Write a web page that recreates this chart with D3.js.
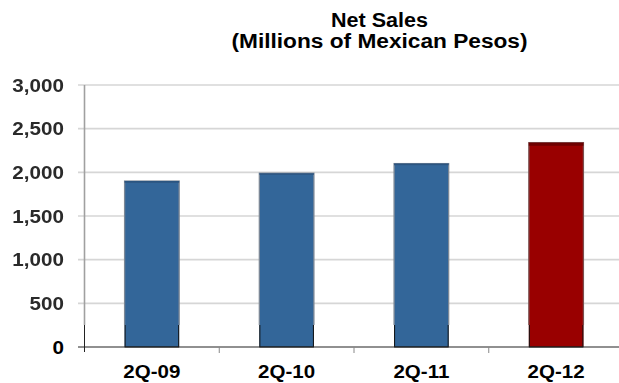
<!DOCTYPE html>
<html>
<head>
<meta charset="utf-8">
<script src="https://cdn.jsdelivr.net/npm/d3@7"></script>
<style>
  html, body { margin: 0; padding: 0; background: #fff; }
  svg { display: block; }
  text { font-family: Arial, "Liberation Sans", Helvetica, sans-serif; font-weight: bold; }
</style>
</head>
<body>
<svg id="chart" width="619" height="383"></svg>
<script>
// Net sales by quarter, millions of Mexican pesos
const categories = ["2Q-09", "2Q-10", "2Q-11", "2Q-12"];
const netSales = [1900, 1990, 2100, 2340];
const yTicks = [0, 500, 1000, 1500, 2000, 2500, 3000];
const titleLines = ["Net Sales", "(Millions of Mexican Pesos)"];

(function draw() {
  const svg = d3.select("#chart");
  const W = 619, H = 383;
  const plotLeft = 84.5, plotRight = 623.5, plotTop = 85, plotBottom = 347;
  const stripTop = 325; // crisp lower band of the plot

  const x = d3.scaleBand()
    .domain(categories)
    .range([plotLeft, plotRight])
    .paddingInner(0.595)
    .paddingOuter(0.2975);

  const y = d3.scaleLinear().domain([0, 3000]).range([plotBottom, plotTop]);

  const defs = svg.append("defs");
  defs.append("filter").attr("id", "soft")
    .attr("filterUnits", "userSpaceOnUse")
    .attr("x", -2000).attr("y", -2000).attr("width", 5000).attr("height", 5000)
    .append("feGaussianBlur").attr("stdDeviation", 0.55);
  defs.append("clipPath").attr("id", "upper")
    .append("rect").attr("x", 0).attr("y", 0).attr("width", W).attr("height", stripTop);
  defs.append("clipPath").attr("id", "lower")
    .append("rect").attr("x", 0).attr("y", stripTop).attr("width", W).attr("height", H - stripTop);

  // Title
  svg.append("g").selectAll("text")
    .data(titleLines)
    .join("text")
    .attr("x", 379.5)
    .attr("y", (d, i) => 27 + i * 20.5)
    .attr("text-anchor", "middle")
    .attr("font-size", 20)
    .attr("fill", "#000")
    .attr("textLength", (d, i) => i === 0 ? 97 : 296)
    .attr("lengthAdjust", "spacingAndGlyphs")
    .text(d => d);

  // Horizontal gridlines (baseline drawn separately)
  svg.append("g").attr("filter", "url(#soft)")
    .selectAll("line")
    .data(yTicks.filter(v => v > 0))
    .join("line")
    .attr("x1", 78).attr("x2", W)
    .attr("y1", d => y(d)).attr("y2", d => y(d))
    .attr("stroke", "#d6d6d6")
    .attr("stroke-width", 1.6);

  // Vertical axis line: soft grey above the strip, black within it
  svg.append("line")
    .attr("x1", plotLeft).attr("x2", plotLeft)
    .attr("y1", plotTop).attr("y2", stripTop)
    .attr("stroke", "#a0a0a0").attr("stroke-width", 1.6)
    .attr("filter", "url(#soft)");
  svg.append("line")
    .attr("x1", plotLeft).attr("x2", plotLeft)
    .attr("y1", stripTop).attr("y2", plotBottom + 5)
    .attr("stroke", "#222").attr("stroke-width", 1);

  // Bars
  const last = categories.length - 1;
  const data = categories.map((c, i) => ({ c, v: netSales[i], i }));
  const fillFor = d => d.i === last ? "#990000" : "#336699";
  const topEdgeFor = d => d.i === last ? "#6e0000" : "#2c5481";

  const bars = svg.append("g");
  bars.selectAll("rect.bar")
    .data(data)
    .join("rect")
    .attr("class", "bar")
    .attr("x", d => x(d.c))
    .attr("y", d => y(d.v))
    .attr("width", x.bandwidth())
    .attr("height", d => plotBottom - y(d.v))
    .attr("fill", fillFor);

  // soft edges on the upper part
  bars.append("g").attr("clip-path", "url(#upper)")
    .append("g").attr("filter", "url(#soft)")
    .selectAll("rect")
    .data(data)
    .join("rect")
    .attr("x", d => x(d.c))
    .attr("y", d => y(d.v))
    .attr("width", x.bandwidth())
    .attr("height", d => plotBottom - y(d.v))
    .attr("fill", "none")
    .attr("stroke", d => d.i === last ? "#7a5050" : "#7d8896")
    .attr("stroke-width", 1.3);

  // darker top edge
  bars.append("g").attr("filter", "url(#soft)")
    .selectAll("line")
    .data(data)
    .join("line")
    .attr("x1", d => x(d.c))
    .attr("x2", d => x(d.c) + x.bandwidth())
    .attr("y1", d => y(d.v) + (d.i === last ? 1.5 : 0.8))
    .attr("y2", d => y(d.v) + (d.i === last ? 1.5 : 0.8))
    .attr("stroke", topEdgeFor)
    .attr("stroke-width", d => d.i === last ? 3 : 1.6);

  // crisp outlines in the lower strip
  bars.append("g").attr("clip-path", "url(#lower)")
    .selectAll("rect")
    .data(data)
    .join("rect")
    .attr("x", d => x(d.c) + 0.5)
    .attr("y", d => y(d.v))
    .attr("width", x.bandwidth() - 1)
    .attr("height", d => plotBottom - y(d.v))
    .attr("fill", "none")
    .attr("stroke", "#111")
    .attr("stroke-width", 1);

  // Baseline
  svg.append("line")
    .attr("x1", 78).attr("x2", W)
    .attr("y1", plotBottom).attr("y2", plotBottom)
    .attr("stroke", "#222").attr("stroke-width", 1.2);

  // Category separator ticks below the baseline
  const seps = categories.slice(1).map(c => x(c) - x.step() * x.paddingInner() / 2);
  svg.append("g").selectAll("line")
    .data(seps)
    .join("line")
    .attr("x1", d => d).attr("x2", d => d)
    .attr("y1", plotBottom).attr("y2", plotBottom + 6)
    .attr("stroke", "#888").attr("stroke-width", 1);

  // Y axis labels
  const yAxis = d3.axisLeft(y).tickValues(yTicks).tickSize(0).tickFormat(d3.format(","));
  const gy = svg.append("g").attr("transform", "translate(64,0)").call(yAxis);
  gy.select(".domain").remove();
  gy.selectAll(".tick text")
    .attr("x", 0)
    .attr("dy", "0.36em")
    .attr("font-size", 17.5)
    .attr("font-family", "Arial, 'Liberation Sans', sans-serif")
    .attr("font-weight", "bold")
    .attr("fill", d => d === 0 ? "#000" : "#2a2a2a")
    .attr("transform", "scale(1.18,1)")
    .attr("filter", d => d === 0 ? null : "url(#soft)");

  // X axis labels
  const xAxis = d3.axisBottom(x).tickSize(0);
  const gx = svg.append("g").attr("transform", `translate(0,${plotBottom})`).call(xAxis);
  gx.select(".domain").remove();
  gx.selectAll(".tick text")
    .attr("y", 0)
    .attr("dy", 31)
    .attr("font-size", 19)
    .attr("font-family", "Arial, 'Liberation Sans', sans-serif")
    .attr("font-weight", "bold")
    .attr("fill", "#000")
    .attr("transform", "scale(1.08,1)");
})();
</script>
</body>
</html>
